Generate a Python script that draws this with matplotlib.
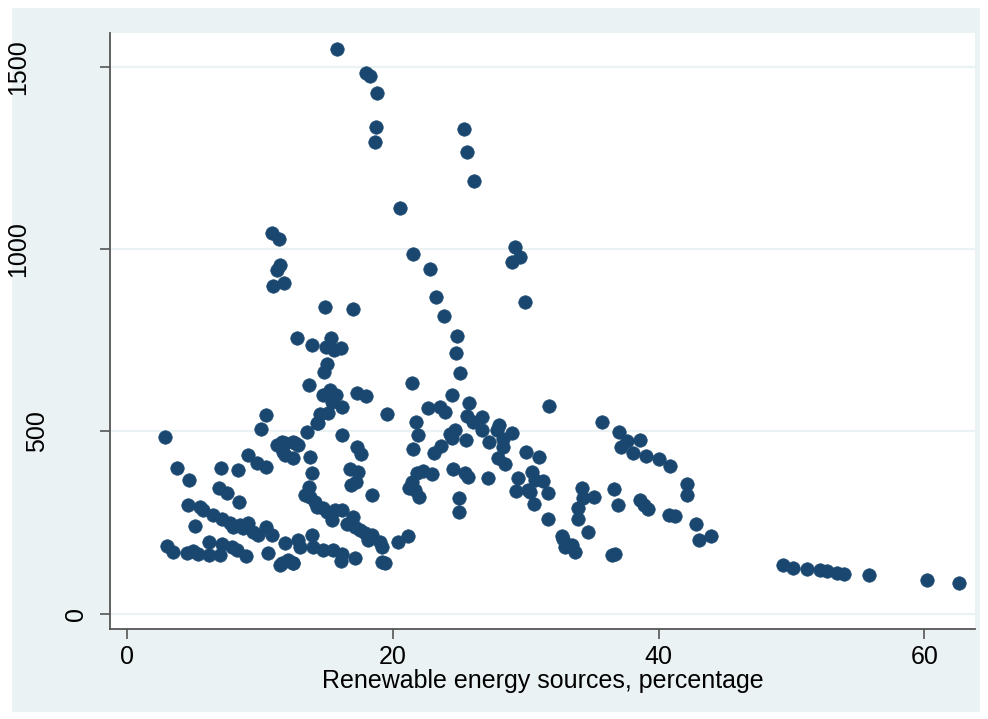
import numpy as np
import matplotlib
matplotlib.use('Agg')
import matplotlib.pyplot as plt
import matplotlib.transforms as mtransforms
from matplotlib.patches import Rectangle

# Renewable energy share (%) and the y variable
renewable_pct = [
    15.8, 18.0, 18.3, 18.85, 18.73, 18.68, 25.35, 25.57, 26.14, 20.58,
    10.95, 11.46, 11.53, 11.33, 11.83, 11.03, 14.92, 17.0, 21.5, 22.83,
    23.3, 23.86, 29.2, 29.6, 28.98, 29.98, 24.87, 24.77, 25.07, 24.44,
    25.77, 25.62, 26.7, 26.07, 26.74, 28.02, 27.83, 28.95, 22.68, 23.56,
    23.94, 21.44, 21.76, 21.93, 19.6, 17.3, 18.0, 13.92, 12.79, 15.35,
    14.99, 15.59, 16.1, 15.04, 14.84, 13.74, 14.79, 15.29, 15.74, 15.42,
    16.17, 14.54, 15.17, 14.41, 13.54, 16.17, 21.56, 24.32, 24.69, 24.44,
    25.5, 23.64, 23.11, 24.56, 25.44, 25.69, 27.15, 25.0, 25.0, 27.27,
    28.28, 28.28, 30.03, 31.03, 27.95, 28.45, 29.45, 30.46, 30.71, 31.33,
    29.28, 30.2, 30.63, 31.7, 31.7, 31.76, 32.79, 11.91, 12.66, 12.91,
    11.78, 12.53, 13.79, 13.92, 13.74, 13.41, 13.79, 14.16, 14.29, 14.79,
    15.04, 15.42, 15.67, 16.17, 16.8, 17.42, 17.25, 16.85, 18.43, 16.55,
    17.0, 17.17, 17.55, 17.92, 18.17, 18.43, 19.05, 19.18, 19.18, 19.43,
    20.43, 21.18, 11.91, 12.91, 13.04, 13.92, 14.04, 14.79, 15.54, 16.17,
    16.12, 17.17, 11.53, 12.49, 2.89, 3.77, 4.71, 4.59, 5.52, 5.77,
    5.14, 3.02, 3.47, 4.52, 5.02, 5.35, 6.2, 6.2, 7.02, 7.2,
    7.9, 8.28, 8.95, 6.52, 7.15, 7.77, 8.02, 8.77, 9.15, 9.53,
    9.9, 10.48, 10.91, 8.53, 6.97, 7.53, 8.47, 7.07, 8.35, 9.1,
    9.78, 10.46, 10.08, 10.46, 10.65, 11.66, 12.16, 12.53, 11.28, 11.66,
    11.91, 12.53, 17.3, 17.6, 21.81, 22.31, 22.94, 21.44, 21.26, 21.69,
    21.99, 35.72, 37.04, 37.6, 38.6, 37.15, 38.05, 39.05, 40.05, 40.9,
    30.33, 34.22, 34.34, 35.17, 33.96, 33.96, 34.67, 32.71, 32.96, 33.47,
    33.72, 36.52, 36.7, 36.67, 36.97, 38.6, 38.9, 39.23, 40.8, 41.23,
    42.16, 42.11, 42.81, 43.06, 43.92, 49.38, 50.13, 51.18, 52.14, 52.64,
    53.39, 53.96, 55.82, 60.16, 62.59, 14.29,
]
outcome = [
    1549, 1482, 1475, 1429, 1336, 1294, 1330, 1267, 1187, 1113,
    1045, 1027, 956, 942, 906, 899, 842, 835, 988, 946,
    868, 816, 1005, 979, 966, 855, 763, 716, 661, 601,
    577, 543, 540, 525, 504, 517, 504, 496, 563, 567,
    554, 632, 525, 490, 549, 606, 598, 737, 755, 755,
    732, 723, 730, 685, 664, 627, 600, 613, 600, 581,
    567, 549, 551, 524, 499, 490, 451, 494, 503, 481,
    476, 460, 441, 396, 386, 375, 373, 316, 278, 471,
    478, 458, 444, 429, 426, 410, 373, 389, 366, 364,
    337, 339, 302, 330, 261, 569, 206, 467, 467, 462,
    444, 426, 430, 386, 348, 325, 321, 307, 293, 289,
    279, 257, 284, 284, 396, 389, 362, 353, 325, 246,
    266, 238, 229, 220, 202, 216, 197, 183, 142, 138,
    197, 214, 193, 202, 183, 216, 183, 176, 174, 163,
    145, 153, 133, 138, 484, 399, 366, 298, 292, 284,
    240, 186, 170, 167, 172, 163, 161, 196, 161, 191,
    183, 174, 158, 270, 261, 248, 238, 234, 248, 225,
    216, 238, 216, 243, 344, 330, 307, 401, 394, 435,
    414, 403, 508, 545, 167, 138, 147, 138, 462, 471,
    435, 471, 457, 437, 385, 392, 383, 362, 344, 339,
    321, 526, 499, 474, 476, 456, 440, 432, 423, 405,
    334, 344, 316, 319, 289, 261, 225, 213, 183, 188,
    170, 161, 165, 341, 298, 312, 298, 286, 270, 268,
    357, 325, 246, 202, 214, 133, 126, 122, 120, 118,
    112, 110, 106, 92, 85, 522,
]

x_ticks = [0, 20, 40, 60]
y_ticks = [0, 500, 1000, 1500]
x_title = 'Renewable energy sources, percentage'

navy = '#1A476F'
bg = '#EAF2F3'
axis_col = '#555555'

plt.rcParams['font.family'] = ['Liberation Sans', 'DejaVu Sans']

fig = plt.figure(figsize=(9.88, 7.19), dpi=100)
fig.patch.set_facecolor('white')
# light graph region like Stata's s2color scheme
fig.patches.append(Rectangle((12 / 988, 1 - 712 / 719), (980 - 12) / 988, (712 - 8) / 719,
                             transform=fig.transFigure, facecolor=bg, edgecolor='none', zorder=-10))

ax = fig.add_axes([110 / 988, 1 - 629 / 719, (975 - 110) / 988, (629 - 33) / 719])
ax.set_zorder(1)
ax.set_facecolor('white')

ax.scatter(renewable_pct, outcome, s=95, color=navy, edgecolors=navy, linewidths=0.4, zorder=3)

ax.set_xlim(-1.25, 63.8)
ax.set_ylim(-42, 1593)
ax.set_xticks(x_ticks)
ax.set_yticks(y_ticks)
ax.yaxis.grid(True, color=bg, linewidth=1.6)
ax.set_axisbelow(True)

for side in ['top', 'right']:
    ax.spines[side].set_visible(False)
for side in ['left', 'bottom']:
    ax.spines[side].set_color(axis_col)
    ax.spines[side].set_linewidth(1.3)

ax.tick_params(axis='both', length=7.2, width=1.2, color=axis_col, labelsize=18)
ax.tick_params(axis='x', pad=4.5)
ax.tick_params(axis='y', labelleft=False)

# vertical y labels, placed the way Stata places them (wider labels sit further left)
ylab_trans = mtransforms.blended_transform_factory(fig.transFigure, ax.transData)
for v in y_ticks:
    s = str(v)
    xc = 96 - 19.5 * len(s)
    ax.text(xc / 988, v, s, transform=ylab_trans, rotation=90, ha='center', va='center',
            fontsize=18, clip_on=False)

ax.set_xlabel(x_title, fontsize=18, labelpad=0)

fig.savefig('out.png', dpi=100, facecolor=fig.get_facecolor())
